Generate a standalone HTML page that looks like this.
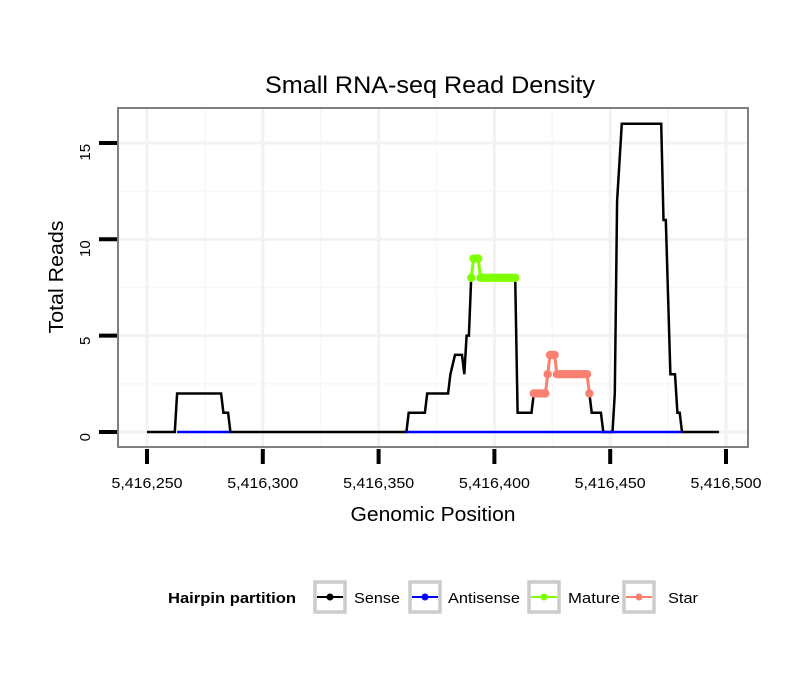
<!DOCTYPE html>
<html><head><meta charset="utf-8"><style>
body{margin:0;background:#fff;}
svg text{font-family:"Liberation Sans",Arial,sans-serif;}
</style></head><body>
<svg id="chart" width="810" height="690" xmlns="http://www.w3.org/2000/svg">
<rect x="0" y="0" width="810" height="690" fill="#fff"/>
<text x="430" y="93" font-size="24" text-anchor="middle" textLength="330" lengthAdjust="spacingAndGlyphs">Small RNA-seq Read Density</text>
<g id="grid"></g>
<g id="series"></g>
<rect x="118" y="108" width="630" height="339" fill="none" stroke="#808080" stroke-width="2"/>
<g id="axes"></g>
<text x="433" y="521" font-size="20" text-anchor="middle" textLength="165" lengthAdjust="spacingAndGlyphs">Genomic Position</text>
<text transform="translate(63,277) rotate(-90)" font-size="20" text-anchor="middle" textLength="113" lengthAdjust="spacingAndGlyphs">Total Reads</text>
<g id="legend">
<text x="168" y="603" font-size="15" font-weight="bold" textLength="128" lengthAdjust="spacingAndGlyphs">Hairpin partition</text>
</g>
</svg>
<script>
const base = 5416250;
const xTicks = [5416250,5416300,5416350,5416400,5416450,5416500];
const xTickLabels = ["5,416,250","5,416,300","5,416,350","5,416,400","5,416,450","5,416,500"];
const yTicks = [0,5,10,15];
const yTickLabels = ["0","5","10","15"];
const senseOffset = [0,12,13,32,33,35,36,112,113,120,121,130,131,133,135,136,137,138,139,140,141,143,144,159,160,166,167,172,173,174,176,177,190,191,192,196,197,201,202,203,205,222,223,224,226,227,228,229,230,231,247];
const senseReads  = [0,0,2,2,1,1,0,0,1,1,2,2,3,4,4,4,3,5,5,8,9,9,8,8,1,1,2,2,3,4,4,3,3,2,1,1,0,0,2,12,16,16,11,11,3,3,3,1,1,0,0];
const antisenseOffset = [[13,36],[112,231]];
const antisenseReads = [[0,0],[0,0]];
const matureOffset = [140,141,142,143,144,145,146,147,148,149,150,151,152,153,154,155,156,157,158,159];
const matureReads  = [8,9,9,9,8,8,8,8,8,8,8,8,8,8,8,8,8,8,8,8];
const starOffset = [167,168,169,170,171,172,173,174,175,176,177,178,179,180,181,182,183,184,185,186,187,188,189,190,191];
const starReads  = [2,2,2,2,2,2,3,4,4,4,3,3,3,3,3,3,3,3,3,3,3,3,3,3,2];

const NS="http://www.w3.org/2000/svg";
const X = p => 147 + (p-base)*2.316;
const XO = o => X(base+o);
const Y = v => 432 - v*19.27;
function mk(tag, attrs, parent){const e=document.createElementNS(NS,tag);for(const k in attrs)e.setAttribute(k,attrs[k]);parent.appendChild(e);return e;}
const grid=document.getElementById('grid'), series=document.getElementById('series'), axes=document.getElementById('axes'), legend=document.getElementById('legend');
mk('rect',{x:118,y:108,width:630,height:339,fill:'#fff'},grid);
for(let i=0;i<xTicks.length-1;i++){const xm=(X(xTicks[i])+X(xTicks[i+1]))/2;const l=mk('line',{x1:xm,x2:xm,y1:108,y2:447,stroke:'#f7f7f7','stroke-width':1.5},grid);

}
for(let i=0;i<yTicks.length-1;i++){const ym=Y(yTicks[i]+2.5);const l=mk('line',{x1:118,x2:748,y1:ym,y2:ym,stroke:'#f7f7f7','stroke-width':1.5},grid);

}
xTicks.forEach((t,i)=>{const l=mk('line',{x1:X(t),x2:X(t),y1:108,y2:447,stroke:'#f2f2f2','stroke-width':3},grid);


const tk=mk('line',{x1:X(t),x2:X(t),y1:449,y2:464,stroke:'#000','stroke-width':4},axes);


const tx=mk('text',{x:X(t),y:488,'font-size':15,'text-anchor':'middle',textLength:71,lengthAdjust:'spacingAndGlyphs'},axes);tx.textContent=xTickLabels[i];

});
yTicks.forEach((t,i)=>{const l=mk('line',{x1:118,x2:748,y1:Y(t),y2:Y(t),stroke:'#f2f2f2','stroke-width':3},grid);


const tk=mk('line',{x1:99,x2:117,y1:Y(t),y2:Y(t),stroke:'#000','stroke-width':4},axes);


const tx=mk('text',{transform:`translate(90,${Y(t)+1}) rotate(-90)`,'font-size':15,'text-anchor':'end'},axes);tx.textContent=yTickLabels[i];

});
function poly(xs,ys){return xs.map((o,i)=>XO(o).toFixed(1)+','+Y(ys[i]).toFixed(1)).join(' ');}
const sense=mk('polyline',{points:poly(senseOffset,senseReads),fill:'none',stroke:'#000','stroke-width':2.5,'stroke-linejoin':'miter'},series);


antisenseOffset.forEach((seg,i)=>{const a=mk('polyline',{points:poly(seg,antisenseReads[i]),fill:'none',stroke:'#0000ff','stroke-width':2.5},series);

});
function pts(xs,ys,color,name){const pl=mk('polyline',{points:poly(xs,ys),fill:'none',stroke:color,'stroke-width':3},series);


xs.forEach((o,i)=>{const c=mk('circle',{cx:XO(o),cy:Y(ys[i]),r:4.2,fill:color},series);

});}
pts(matureOffset,matureReads,'#7fff00','mature');
pts(starOffset,starReads,'#fa8072','star');
const keys=[['Sense','#000',313,354,46],['Antisense','#0000ff',408,448,72],['Mature','#7fff00',527,568,52],['Star','#fa8072',622,668,30]];
keys.forEach(k=>{const g=mk('g',{},legend);


mk('rect',{x:k[2]+2,y:582,width:30,height:30,fill:'#fff',stroke:'#cccccc','stroke-width':3.5},g);
mk('line',{x1:k[2]+4,x2:k[2]+30,y1:597,y2:597,stroke:k[1],'stroke-width':2},g);
mk('circle',{cx:k[2]+17,cy:597,r:3.5,fill:k[1]},g);
const t=mk('text',{x:k[3],y:603,'font-size':15,textLength:k[4],lengthAdjust:'spacingAndGlyphs'},g);t.textContent=k[0];});
</script>
</body></html>
